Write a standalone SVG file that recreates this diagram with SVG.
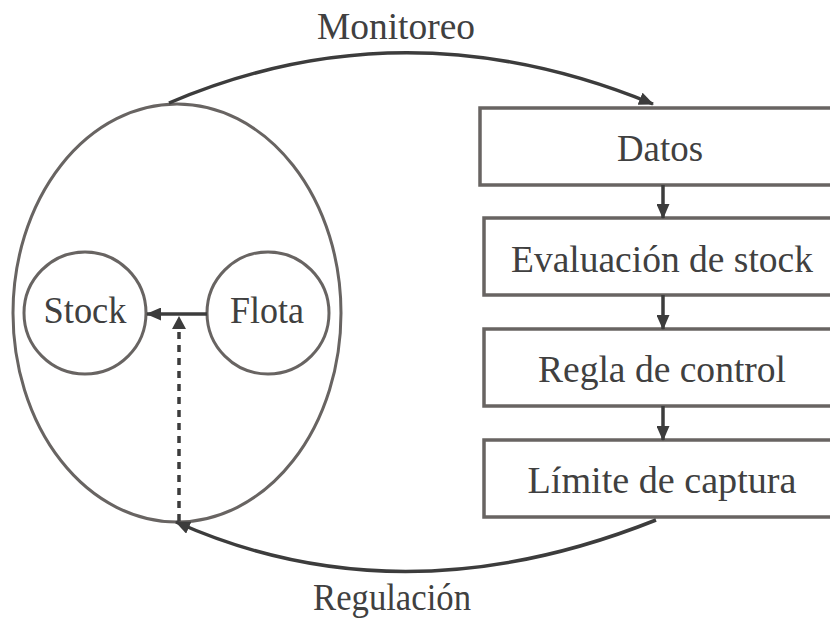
<svg xmlns="http://www.w3.org/2000/svg" width="830" height="620" viewBox="0 0 830 620">
<defs>
<style>
.shape{fill:none;stroke:#686462;stroke-width:3}
.box{fill:#fff;stroke:#686462;stroke-width:3.5}
.conn{fill:none;stroke:#3c3c3c;stroke-width:3.5}
.dash{fill:none;stroke:#3c3c3c;stroke-width:3.5;stroke-dasharray:7 6}
text{font-family:"Liberation Serif","Times New Roman",serif;font-size:37px;fill:#404040;text-anchor:middle}
</style>
<marker id="ah" viewBox="0 0 15 13" refX="14" refY="6.5" markerWidth="15" markerHeight="13" markerUnits="userSpaceOnUse" orient="auto">
<path d="M0,0 L15,6.5 L0,13 Z" fill="#3c3c3c"/>
</marker>
</defs>
<rect width="830" height="620" fill="#fff"/>
<g id="system">
<ellipse class="shape" cx="177" cy="313" rx="164" ry="209"/>
</g>
<g id="stock">
<circle class="shape" cx="85" cy="313" r="61"/>
<text x="85" y="323" textLength="83" lengthAdjust="spacingAndGlyphs">Stock</text>
</g>
<g id="flota">
<circle class="shape" cx="268" cy="313" r="61"/>
<text x="267" y="323" textLength="74" lengthAdjust="spacingAndGlyphs">Flota</text>
</g>
<g id="datos">
<rect class="box" x="480" y="108" width="360" height="77"/>
<text x="660" y="161" textLength="86" lengthAdjust="spacingAndGlyphs">Datos</text>
</g>
<g id="evaluacion">
<rect class="box" x="484" y="218" width="360" height="77"/>
<text x="662" y="272" textLength="302" lengthAdjust="spacingAndGlyphs">Evaluación de stock</text>
</g>
<g id="regla">
<rect class="box" x="484" y="329" width="360" height="77"/>
<text x="662" y="382" textLength="248" lengthAdjust="spacingAndGlyphs">Regla de control</text>
</g>
<g id="limite">
<rect class="box" x="484" y="440" width="360" height="77"/>
<text x="662" y="493" textLength="269" lengthAdjust="spacingAndGlyphs">Límite de captura</text>
</g>
<g id="connectors">
<line class="conn" x1="207" y1="314" x2="147" y2="314" marker-end="url(#ah)"/>
<line class="dash" x1="179" y1="521" x2="179" y2="330"/>
<path d="M172,329 L179,316 L186,329 Z" fill="#3c3c3c"/>
<line class="conn" x1="663" y1="185" x2="663" y2="218" marker-end="url(#ah)"/>
<line class="conn" x1="663" y1="295" x2="663" y2="329" marker-end="url(#ah)"/>
<line class="conn" x1="663" y1="406" x2="663" y2="440" marker-end="url(#ah)"/>
<path class="conn" d="M169,103 Q405,2 653,104" marker-end="url(#ah)"/>
<path class="conn" d="M656,520 Q400,622 176,522" marker-end="url(#ah)"/>
<text x="396" y="39" textLength="158" lengthAdjust="spacingAndGlyphs">Monitoreo</text>
<text x="392" y="610" textLength="158" lengthAdjust="spacingAndGlyphs">Regulación</text>
</g>
</svg>
